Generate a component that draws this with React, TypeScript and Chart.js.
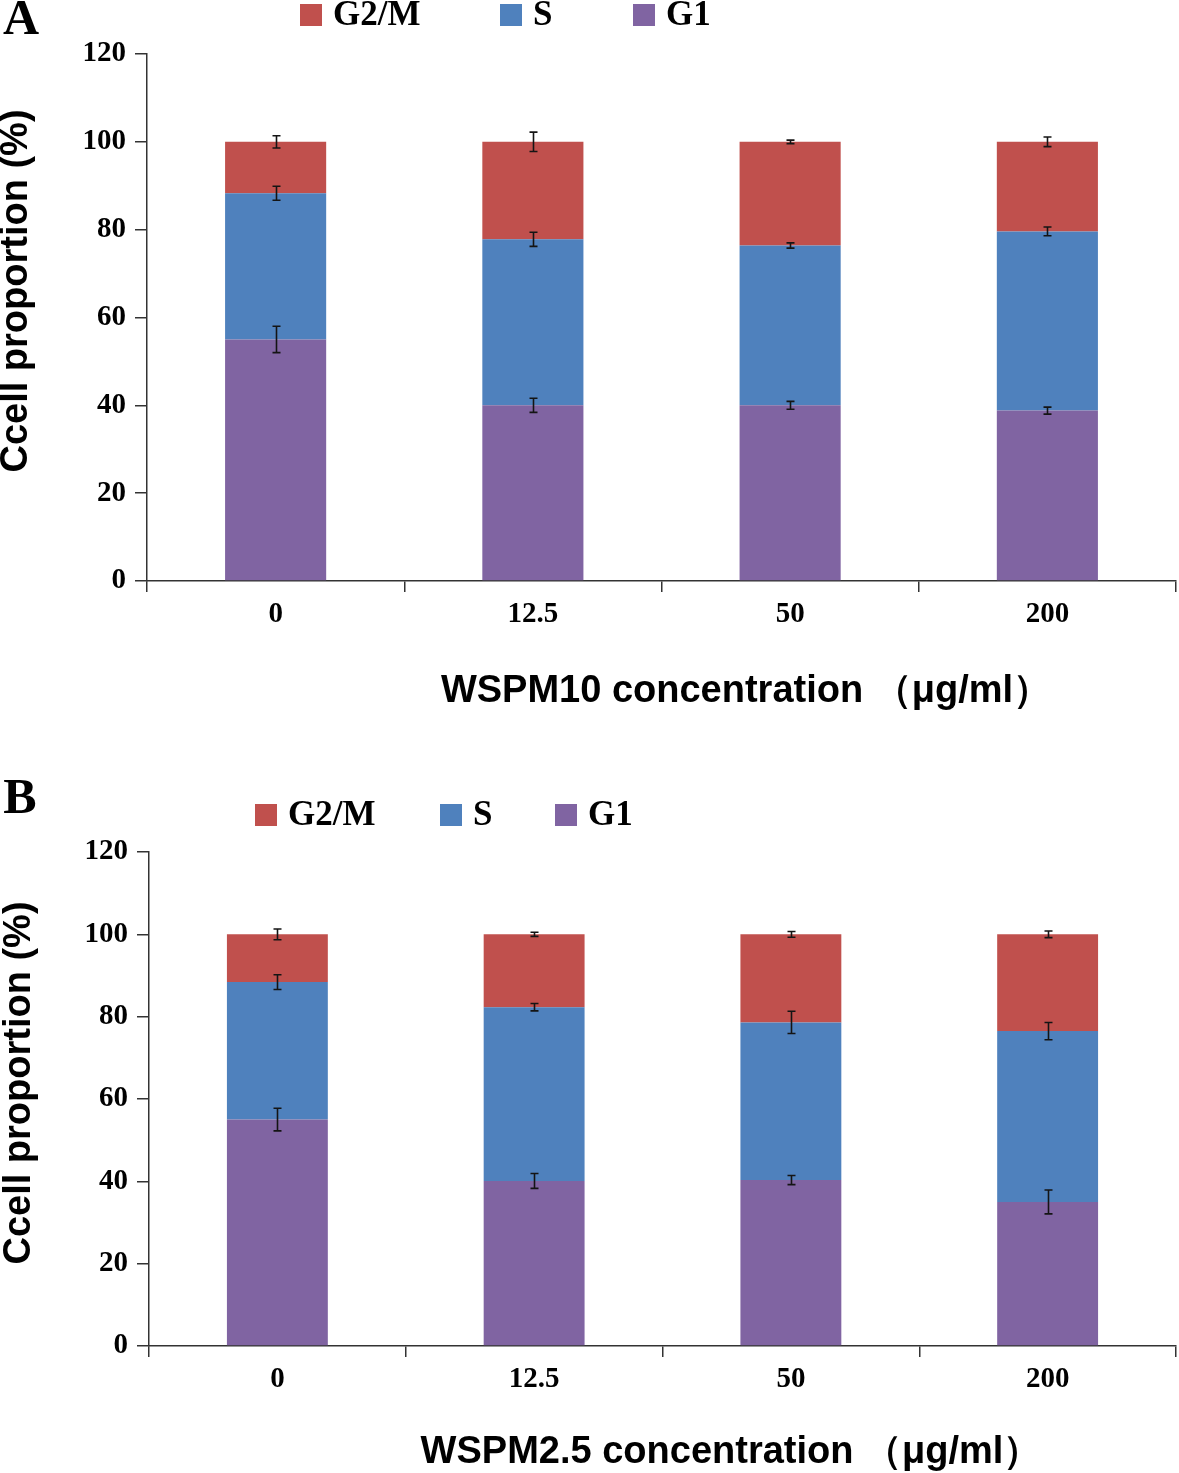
import React, { useEffect, useRef } from 'react';
import { Chart, registerables } from 'chart.js';

Chart.register(...registerables);

// ---------- data ----------
const categories = ['0', '12.5', '50', '200'];
const seriesLabels = ['G1', 'S', 'G2/M'];
const seriesColors = ['#8064A2', '#4F81BD', '#C0504D'];
const legendOrder = ['G2/M', 'S', 'G1'];
const yTicks = [0, 20, 40, 60, 80, 100, 120];

// Panel A (WSPM10)
const aG1 = [55.0, 40.0, 40.0, 38.8];
const aS = [33.3, 37.8, 36.4, 40.8];
const aG2M = [11.7, 22.2, 23.6, 20.4];
const aG1Err = [3.0, 1.6, 0.9, 0.8];
const aSErr = [1.6, 1.6, 0.6, 1.0];
const aG2MErr = [1.4, 2.2, 0.4, 1.1];

// Panel B (WSPM2.5)
const bG1 = [55.0, 40.1, 40.3, 35.0];
const bS = [33.4, 42.2, 38.3, 41.5];
const bG2M = [11.6, 17.7, 21.4, 23.5];
const bG1Err = [2.75, 1.8, 1.1, 2.9];
const bSErr = [1.8, 0.9, 2.7, 2.1];
const bG2MErr = [1.3, 0.5, 0.7, 0.8];

const yTitle = 'Ccell proportion (%)';
const aXTitle = 'WSPM10 concentration （μg/ml）';
const bXTitle = 'WSPM2.5 concentration （μg/ml）';

type Spec = {
  letter: string;
  letterPos: [number, number];
  height: number;
  values: number[][];
  errors: number[][];
  xTitle: string;
  xTitlePos: [number, number];
  yTitlePos: [number, number];
  legendX: number[];
  legendY: number;
  yAxisWidth: number;
  padTop: number;
  padBottom: number;
};

const specA: Spec = {
  letter: 'A',
  letterPos: [21, 21],
  height: 736,
  values: [aG1, aS, aG2M],
  errors: [aG1Err, aSErr, aG2MErr],
  xTitle: aXTitle,
  xTitlePos: [746, 692],
  yTitlePos: [17, 291],
  legendX: [300, 500, 633],
  legendY: 15,
  yAxisWidth: 147,
  padTop: 54,
  padBottom: 105,
};

const specB: Spec = {
  letter: 'B',
  letterPos: [20, 64],
  height: 737,
  values: [bG1, bS, bG2M],
  errors: [bG1Err, bSErr, bG2MErr],
  xTitle: bXTitle,
  xTitlePos: [731, 717],
  yTitlePos: [20, 347],
  legendX: [255, 440, 555],
  legendY: 79,
  yAxisWidth: 149,
  padTop: 116,
  padBottom: 77,
};

const serif = 'Liberation Serif';
const sans = 'Liberation Sans';

function decorPlugin(spec: Spec) {
  return {
    id: 'decor',
    afterDatasetsDraw(chart: any) {
      const ctx = chart.ctx as CanvasRenderingContext2D;
      const y = chart.scales.y;
      const cum = categories.map(() => 0);
      ctx.save();
      ctx.strokeStyle = '#141414';
      ctx.lineWidth = 1.6;
      chart.data.datasets.forEach((ds: any, di: number) => {
        const meta = chart.getDatasetMeta(di);
        ds.data.forEach((v: number, j: number) => {
          cum[j] += v;
          const e = spec.errors[di][j];
          const x = Math.round(meta.data[j].x) + 0.5;
          const yt = y.getPixelForValue(cum[j] + e);
          const yb = y.getPixelForValue(cum[j] - e);
          ctx.beginPath();
          ctx.moveTo(x, yt);
          ctx.lineTo(x, yb);
          ctx.moveTo(x - 4, yt);
          ctx.lineTo(x + 4, yt);
          ctx.moveTo(x - 4, yb);
          ctx.lineTo(x + 4, yb);
          ctx.stroke();
        });
      });
      ctx.restore();
    },
    afterDraw(chart: any) {
      const ctx = chart.ctx as CanvasRenderingContext2D;
      ctx.save();
      ctx.fillStyle = '#000';
      // panel letter
      ctx.font = `bold 50px "${serif}"`;
      ctx.textAlign = 'center';
      ctx.textBaseline = 'middle';
      ctx.fillText(spec.letter, spec.letterPos[0], spec.letterPos[1]);
      // legend
      ctx.font = `bold 35px "${serif}"`;
      ctx.textAlign = 'left';
      legendOrder.forEach((lab, k) => {
        const di = chart.data.datasets.findIndex((d: any) => d.label === lab);
        const ds = chart.data.datasets[di];
        const bx = spec.legendX[k];
        ctx.fillStyle = ds.backgroundColor;
        ctx.fillRect(bx, spec.legendY - 11, 22, 22);
        ctx.fillStyle = '#000';
        ctx.fillText(ds.label, bx + 33, spec.legendY + 1);
      });
      // axis titles
      ctx.font = `bold 38px "${sans}"`;
      ctx.textAlign = 'center';
      ctx.fillText(spec.xTitle, spec.xTitlePos[0], spec.xTitlePos[1]);
      ctx.translate(spec.yTitlePos[0], spec.yTitlePos[1]);
      ctx.rotate(-Math.PI / 2);
      ctx.font = `bold 38px "${sans}"`;
      ctx.fillText(yTitle, 0, 0);
      ctx.restore();
    },
  };
}

function Panel({ spec }: { spec: Spec }) {
  const ref = useRef<HTMLCanvasElement | null>(null);
  useEffect(() => {
    if (!ref.current) return;
    const axisColor = '#333';
    const tickFont = { family: serif, size: 29, weight: 'bold' };
    const chart = new Chart(ref.current, {
      type: 'bar',
      data: {
        labels: categories,
        datasets: seriesLabels.map((lab, i) => ({
          label: lab,
          data: spec.values[i],
          backgroundColor: seriesColors[i],
          borderWidth: 0,
          categoryPercentage: 1,
          barPercentage: 0.393,
        })),
      },
      options: {
        responsive: false,
        animation: false,
        devicePixelRatio: 1,
        layout: { padding: { left: 0, right: 3, top: spec.padTop, bottom: spec.padBottom } },
        plugins: {
          legend: { display: false },
          title: { display: false },
          tooltip: { enabled: false },
        },
        scales: {
          x: {
            stacked: true,
            grid: {
              offset: true,
              drawOnChartArea: false,
              drawTicks: true,
              tickLength: 11,
              color: axisColor,
              lineWidth: 1.5,
            },
            border: { color: axisColor, width: 1.5 },
            ticks: {
              color: '#000',
              padding: 5,
              font: tickFont,
            },
            afterFit: (s: any) => {
              s.height = 50;
            },
          },
          y: {
            stacked: true,
            min: 0,
            max: 120,
            afterBuildTicks: (s: any) => {
              s.ticks = yTicks.map((v) => ({ value: v }));
            },
            grid: {
              drawOnChartArea: false,
              drawTicks: true,
              tickLength: 12,
              color: axisColor,
              lineWidth: 1.5,
            },
            border: { color: axisColor, width: 1.5 },
            ticks: {
              color: '#000',
              padding: 9,
              font: tickFont,
            },
            afterFit: (s: any) => {
              s.width = spec.yAxisWidth;
            },
          },
        },
      } as any,
      plugins: [decorPlugin(spec)],
    });
    return () => chart.destroy();
  }, [spec]);
  return (
    <canvas
      ref={ref}
      width={1179}
      height={spec.height}
      style={{ display: 'block', width: 1179, height: spec.height }}
    />
  );
}

export default function App() {
  return (
    <div style={{ position: 'absolute', left: 0, top: 0, width: 1179, height: 1473, background: '#fff' }}>
      <Panel spec={specA} />
      <Panel spec={specB} />
    </div>
  );
}
